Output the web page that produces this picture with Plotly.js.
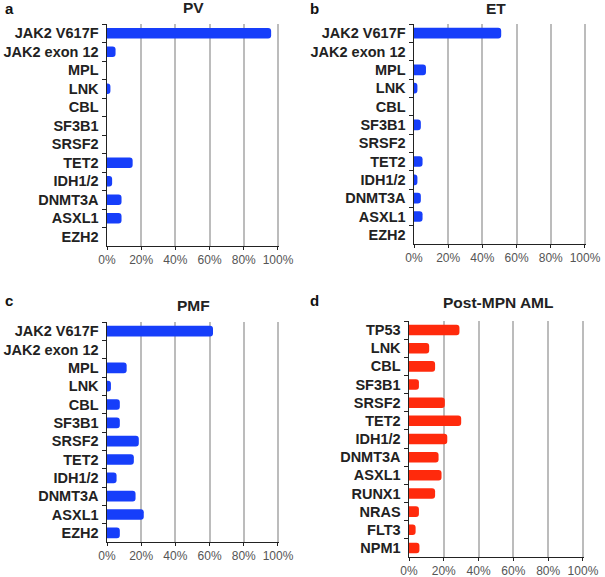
<!DOCTYPE html>
<html>
<head>
<meta charset="utf-8">
<script src="https://cdn.plot.ly/plotly-3.0.1.min.js"></script>
<style>html,body{margin:0;padding:0;background:#fff;}#chart{width:605px;height:577px;}</style>
</head>
<body>
<div id="chart"></div>
<script>
const genesMPN = ["JAK2 V617F","JAK2 exon 12","MPL","LNK","CBL","SF3B1","SRSF2","TET2","IDH1/2","DNMT3A","ASXL1","EZH2"];
const valuesPV = [96, 5, 0, 2, 0, 0, 0, 15, 3, 8.5, 8.5, 0];
const valuesET = [51, 0, 7, 2, 0, 4, 0, 5, 2, 4, 5, 0];
const valuesPMF = [62, 0, 11.5, 2.3, 7.5, 7.5, 18.6, 15.7, 5.6, 16.7, 21.5, 7.5];
const genesAML = ["TP53","LNK","CBL","SF3B1","SRSF2","TET2","IDH1/2","DNMT3A","ASXL1","RUNX1","NRAS","FLT3","NPM1"];
const valuesAML = [29, 11.6, 15, 5.7, 20.6, 30, 22, 17, 18.7, 15, 5.7, 3.8, 6];
const tickVals = [0, 20, 40, 60, 80, 100];
const panelTitles = ["PV", "ET", "PMF", "Post-MPN AML"];
const panelLetters = ["a", "b", "c", "d"];

const W = 605, H = 577;
const blue = "rgb(22,62,250)", red = "rgb(255,42,12)";
const font = "Liberation Sans, Arial, sans-serif";

function px(x){ return x / W; }
function py(y){ return 1 - y / H; }

const boxes = [
  {x0:107, x1:279, y0:24, y1:246},
  {x0:414, x1:586, y0:24, y1:244},
  {x0:107, x1:279, y0:322, y1:542},
  {x0:409, x1:584, y0:321, y1:557}
];
const titlePos = [[193, 7], [496, 9], [193, 305], [498, 302]];
const letterPos = [[9, 9], [314, 9], [9, 300], [314, 300]];

const traces = [
  {y: genesMPN, x: valuesPV, color: blue},
  {y: genesMPN, x: valuesET, color: blue},
  {y: genesMPN, x: valuesPMF, color: blue},
  {y: genesAML, x: valuesAML, color: red}
].map((t, i) => ({
  type: "bar", orientation: "h", x: t.x, y: t.y,
  xaxis: i === 0 ? "x" : "x" + (i + 1),
  yaxis: i === 0 ? "y" : "y" + (i + 1),
  marker: {color: t.color, cornerradius: 3, line: {width: 0}},
  width: 0.58, hoverinfo: "x+y"
}));

const layout = {
  width: W, height: H,
  margin: {l: 0, r: 0, t: 0, b: 0},
  paper_bgcolor: "#fff", plot_bgcolor: "#fff",
  showlegend: false,
  font: {family: font, color: "#222"},
  annotations: []
};

boxes.forEach((b, i) => {
  const sx = i === 0 ? "" : String(i + 1);
  layout["xaxis" + sx] = {
    domain: [px(b.x0), px(b.x1)],
    anchor: "y" + sx,
    range: [0, 100.6],
    tickvals: tickVals,
    ticktext: tickVals.map(v => v + "%"),
    showgrid: true, gridcolor: "#bcbcbc", gridwidth: 2,
    showline: true, linecolor: "#222", linewidth: 1,
    ticks: "outside", ticklen: 3, tickcolor: "#222",
    tickfont: {family: font, size: 12, color: "#555"},
    zeroline: false, fixedrange: true
  };
  layout["yaxis" + sx] = {
    domain: [py(b.y1), py(b.y0)],
    anchor: "x" + sx,
    autorange: "reversed",
    type: "category",
    showline: true, linecolor: "#222", linewidth: 1.5,
    ticks: "outside", tickson: "boundaries", ticklen: 4, tickcolor: "#222",
    ticklabelstandoff: 4,
    tickfont: {family: font, size: 14.5, color: "#222", weight: "bold"},
    showgrid: false, zeroline: false, fixedrange: true
  };
  layout.annotations.push({
    text: panelTitles[i], xref: "paper", yref: "paper",
    x: px(titlePos[i][0]), y: py(titlePos[i][1]), xanchor: "center", yanchor: "middle",
    showarrow: false, font: {family: font, size: 15.5, weight: "bold", color: "#222"}
  });
  layout.annotations.push({
    text: panelLetters[i], xref: "paper", yref: "paper",
    x: px(letterPos[i][0]), y: py(letterPos[i][1]), xanchor: "center", yanchor: "middle",
    showarrow: false, font: {family: font, size: 15, weight: "bold", color: "#111"}
  });
});

Plotly.newPlot("chart", traces, layout, {displayModeBar: false, staticPlot: true});
</script>
</body>
</html>
